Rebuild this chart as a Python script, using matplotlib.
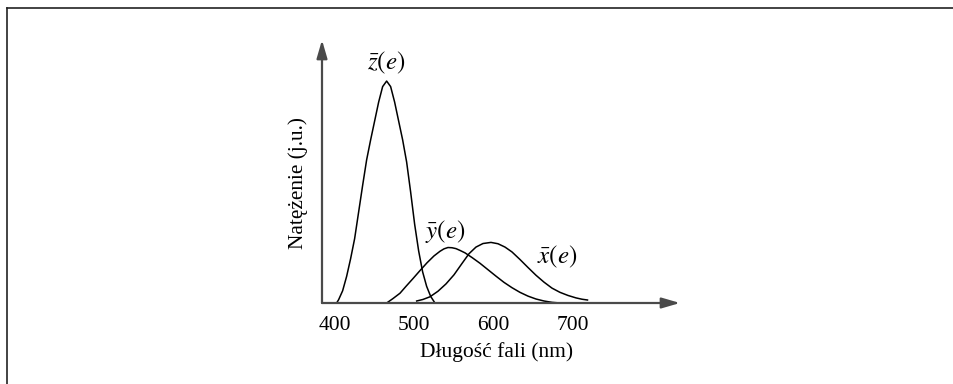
import matplotlib
matplotlib.use("Agg")
import matplotlib.pyplot as plt
from matplotlib.lines import Line2D

plt.rcParams["font.family"] = ["Liberation Serif", "DejaVu Serif"]
plt.rcParams["mathtext.fontset"] = "stix"

# colour matching functions (schematic), wavelength in nm, intensity in a.u.
z_nm = [402.35, 404.87, 409.91, 414.96, 420.00, 425.05, 430.09, 435.14, 440.18, 445.22,
        450.27, 455.31, 460.36, 465.40, 470.44, 475.49, 480.53, 485.58, 490.62, 495.66,
        500.71, 505.75, 510.80, 515.84, 520.89, 526.30]
z_val = [0.0, 0.015, 0.055, 0.12, 0.20, 0.29, 0.41, 0.53, 0.645, 0.735,
         0.82, 0.905, 0.975, 1.0, 0.975, 0.905, 0.82, 0.735, 0.635, 0.50,
         0.355, 0.235, 0.14, 0.075, 0.03, 0.0]

y_nm = [465.45, 473.39, 482.22, 489.79, 498.61, 507.44, 516.27, 525.09, 532.66, 537.71,
        542.75, 547.79, 552.84, 557.88, 564.19, 573.01, 583.10, 593.19, 603.28, 613.37,
        623.45, 633.54, 643.63, 653.72, 663.81, 673.90, 683.98]
y_val = [0.0, 0.02, 0.044, 0.075, 0.11, 0.146, 0.181, 0.212, 0.233, 0.244,
         0.25, 0.249, 0.245, 0.237, 0.226, 0.205, 0.179, 0.150, 0.121, 0.093,
         0.069, 0.048, 0.031, 0.018, 0.009, 0.003, 0.0]

x_nm = [503.28, 511.22, 520.05, 530.14, 540.23, 550.32, 560.40, 569.23, 578.06, 586.89,
        596.97, 605.80, 614.63, 623.46, 633.54, 643.63, 653.72, 663.81, 673.90, 683.98,
        694.07, 704.16, 711.73, 718.66]
x_val = [0.009, 0.016, 0.028, 0.053, 0.086, 0.127, 0.178, 0.222, 0.252, 0.268,
         0.273, 0.267, 0.252, 0.230, 0.196, 0.160, 0.125, 0.094, 0.067, 0.048,
         0.034, 0.023, 0.017, 0.0135]

ticks = [400, 500, 600, 700]

fig = plt.figure(figsize=(9.54, 3.84), dpi=100)
ax = fig.add_axes([322 / 954, 81 / 384, 358 / 954, 263 / 384])
ax.set_xlim(383.9, 835.3)
ax.set_ylim(0, 1.185)

for s in ax.spines.values():
    s.set_visible(False)

for xs, ys in [(z_nm, z_val), (y_nm, y_val), (x_nm, x_val)]:
    ax.plot(xs, ys, color="black", lw=1.1, solid_joinstyle="round")

# axes with arrow heads
arrow = dict(arrowstyle="-|>,head_length=0.55,head_width=0.16", lw=1.6,
             color="#4a4a4a", mutation_scale=20, shrinkA=0, shrinkB=0)
ax.annotate("", xy=(1, 0), xytext=(0, 0), xycoords="axes fraction", arrowprops=arrow)
ax.annotate("", xy=(0, 1), xytext=(0, 0), xycoords="axes fraction", arrowprops=arrow)

ax.set_xticks(ticks)
ax.set_xticklabels([str(t) for t in ticks])
ax.set_yticks([])
ax.tick_params(axis="x", length=0, pad=9.5, labelsize=15.5)

ax.set_xlabel("Długość fali (nm)", fontsize=15.5)
ax.xaxis.set_label_coords(0.489, -0.149)
ax.set_ylabel("Natężenie (j.u.)", fontsize=15.3)
ax.yaxis.set_label_coords(-0.040, 0.456)

ax.text(464.6, 1.081, r"$\bar{z}(e)$", fontsize=18, ha="center", va="center")
ax.text(539.0, 0.32, r"$\bar{y}(e)$", fontsize=18, ha="center", va="center")
ax.text(680.2, 0.207, r"$\bar{x}(e)$", fontsize=18, ha="center", va="center")

# page frame, top and left edges only
fig.add_artist(Line2D([7 / 954, 7 / 954], [0, 1 - 8 / 384], color="#222222", lw=1.2))
fig.add_artist(Line2D([7 / 954, 1], [1 - 8 / 384, 1 - 8 / 384], color="#222222", lw=1.2))

fig.savefig("out.png", dpi=100)
